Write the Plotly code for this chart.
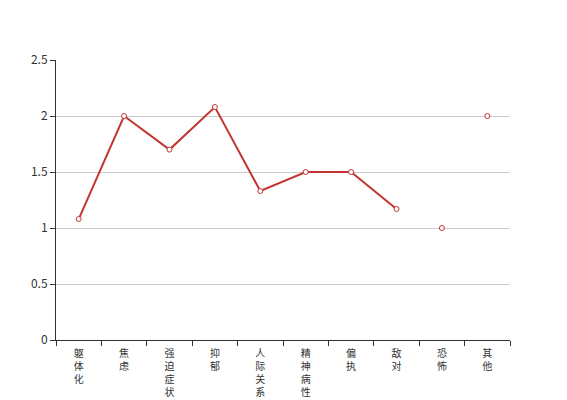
import plotly.graph_objects as go

categories = ["躯体化", "焦虑", "强迫症状", "抑郁", "人际关系敏感",
              "精神病性", "偏执", "敌对", "恐怖", "其他"]
scores = [1.08, 2.0, 1.7, 2.08, 1.33, 1.5, 1.5, 1.17, 1.0, 2.0]
# the line only reached 敌对 in the snapshot
line_len = 8

tick_text = ["<br>".join(list(c)) for c in categories]
red = "#c23531"

fig = go.Figure()
fig.add_trace(go.Scatter(
    x=categories[:line_len], y=scores[:line_len], mode="lines",
    line=dict(color=red, width=2), hoverinfo="skip", showlegend=False,
))
fig.add_trace(go.Scatter(
    x=categories, y=scores, mode="markers",
    marker=dict(symbol="circle", size=5, color="white",
                line=dict(color=red, width=1)),
    showlegend=False,
))

# page body has an 8px margin, so margins are trimmed by 8
fig.update_layout(
    width=567, height=400,
    margin=dict(l=48, r=65, t=52, b=68),
    paper_bgcolor="white", plot_bgcolor="white",
    font=dict(family="Noto Sans CJK SC, sans-serif", size=10, color="#333"),
    xaxis=dict(
        type="category", categoryorder="array", categoryarray=categories,
        tickvals=categories, ticktext=tick_text, tickson="boundaries",
        range=[-0.5, len(categories) - 0.5], automargin=False,
        showline=True, linecolor="#333", linewidth=1,
        ticks="outside", ticklen=5, tickcolor="#333",
        ticklabelstandoff=4,
        showgrid=False, zeroline=False,
    ),
    yaxis=dict(
        range=[0, 2.5], dtick=0.5, automargin=False,
        showline=True, linecolor="#333", linewidth=1,
        ticks="outside", ticklen=5, tickcolor="#333",
        showgrid=True, gridcolor="#ccc", zeroline=False,
        tickfont=dict(size=12),
    ),
)

fig.write_html("out.html")
